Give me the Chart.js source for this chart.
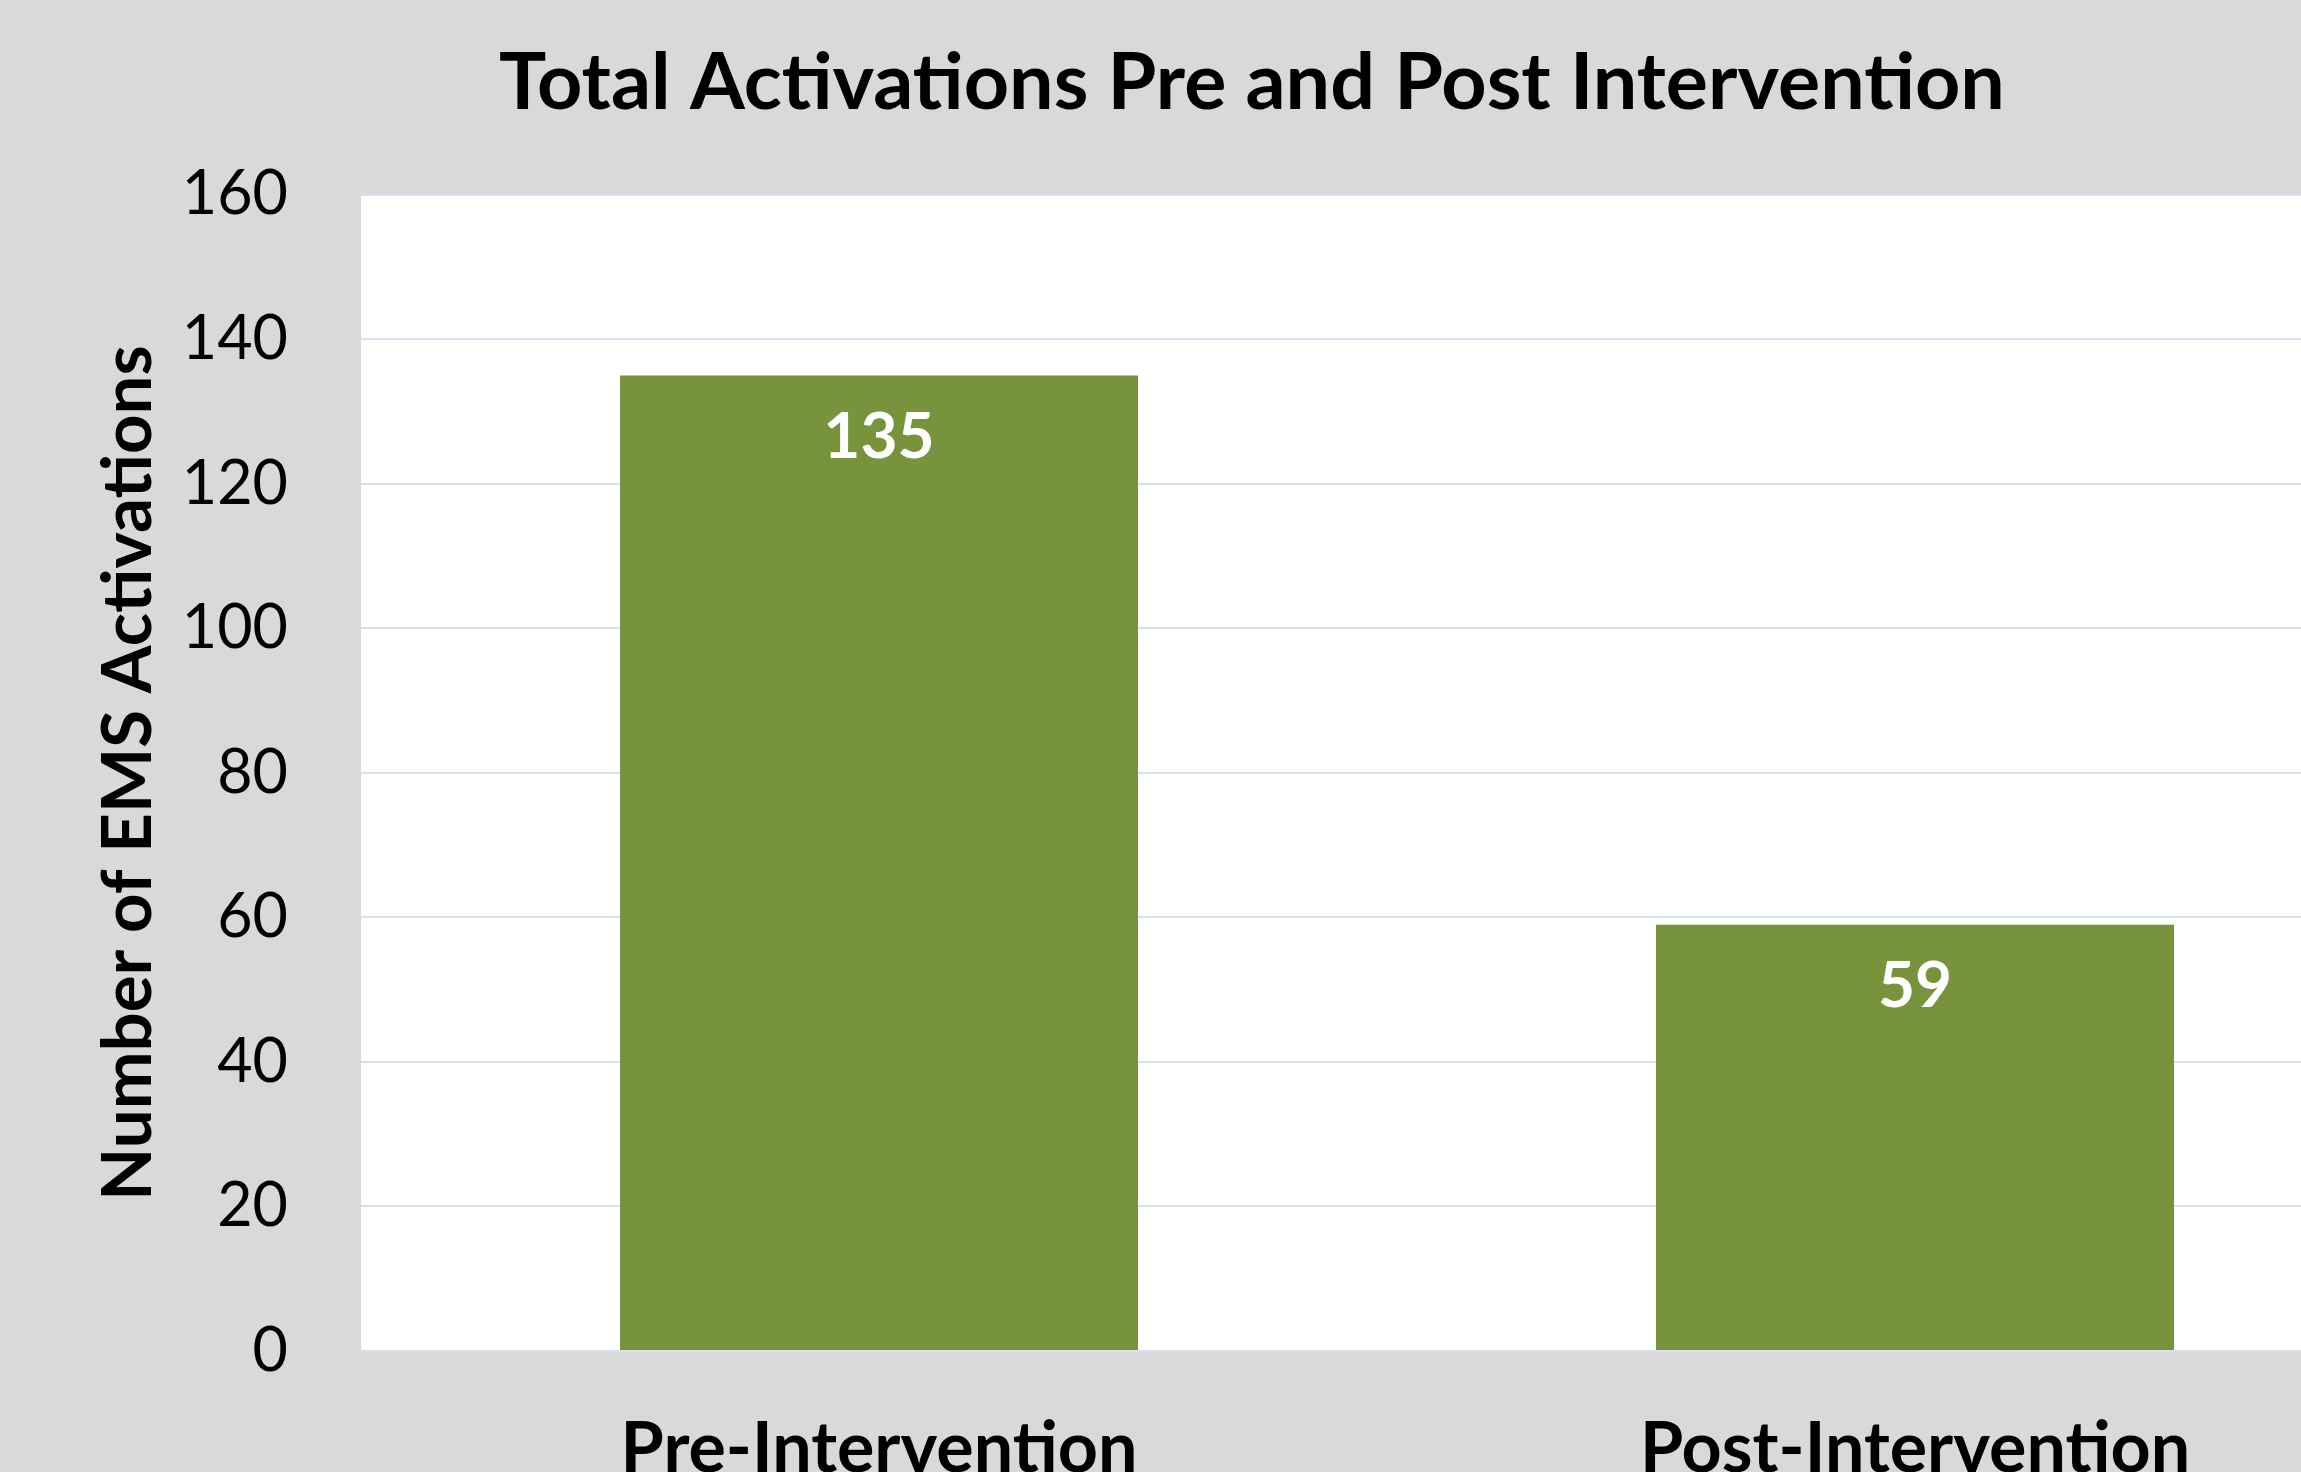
<!doctype html>
<html>
<head>
<meta charset="utf-8">
<title>Total Activations Pre and Post Intervention</title>
<script src="https://cdn.jsdelivr.net/npm/chart.js"></script>
<style>
  html, body { margin: 0; padding: 0; background: #d9d9d9; overflow: hidden; }
  #wrap { width: 2504px; height: 1472px; }
</style>
</head>
<body>
<div id="wrap"><canvas id="c" width="2504" height="1472"></canvas></div>
<script>
// データ
const categories = ['Pre-Intervention', 'Post-Intervention']
const activations = [135, 59]
const yTicks = [0, 20, 40, 60, 80, 100, 120, 140, 160]

const titleText = 'Total Activations Pre and Post Intervention'
const yTitle = 'Number of EMS Activations'

const FONT = 'Lato'
const GRID = '#d5dfef'

// プロット領域の白背景
const plotBg = {
  id: 'plotBg',
  beforeDraw(chart) {
    const { ctx, chartArea: a } = chart
    ctx.save()
    ctx.fillStyle = '#ffffff'
    ctx.fillRect(a.left, a.top, a.right - a.left, a.bottom - a.top)
    ctx.restore()
  }
}

// タイトルはキャンバス全幅の中央に置く（右パディングを無視）
const titleFullWidth = {
  id: 'titleFullWidth',
  afterLayout(chart) {
    const t = chart.titleBlock
    if (!t) return
    t.left = 0
    t.right = chart.width
    t.width = chart.width
  }
}

// バー内の値ラベル（datalabels の代わり）
const valueLabels = {
  id: 'valueLabels',
  afterDatasetsDraw(chart) {
    const { ctx } = chart
    const meta = chart.getDatasetMeta(0)
    ctx.save()
    ctx.fillStyle = '#ffffff'
    ctx.font = `bold 64px ${FONT}`
    ctx.textAlign = 'center'
    ctx.textBaseline = 'middle'
    meta.data.forEach((bar, i) => {
      ctx.fillText(String(activations[i]), bar.x, bar.y + 62)
    })
    ctx.restore()
  }
}

const ctx = document.getElementById('c').getContext('2d')
new Chart(ctx, {
  type: 'bar',
  data: {
    labels: categories,
    datasets: [{
      label: 'Activations',
      data: activations,
      backgroundColor: '#77933c',
      borderWidth: 0,
      categoryPercentage: 1.0,
      barPercentage: 0.5
    }]
  },
  options: {
    responsive: false,
    animation: false,
    layout: { padding: { left: 0, right: 71, top: 0, bottom: 0 } },
    plugins: {
      legend: { display: false },
      tooltip: { enabled: false },
      title: {
        display: true,
        text: titleText,
        color: '#000000',
        font: { family: FONT, size: 79, weight: 'bold' },
        padding: { top: 36, bottom: 64 }
      }
    },
    scales: {
      x: {
        grid: { display: false, drawTicks: false },
        border: { display: true, color: GRID, width: 2 },
        ticks: {
          color: '#000000',
          font: { family: FONT, size: 70, weight: 'bold' },
          padding: 56,
          maxRotation: 0
        },
        afterFit(scale) { scale.height = 121 }
      },
      y: {
        min: 0,
        max: 160,
        afterBuildTicks(scale) { scale.ticks = yTicks.map((v) => ({ value: v })) },
        grid: { color: GRID, lineWidth: 2, drawTicks: false },
        border: { display: false },
        ticks: {
          color: '#000000',
          font: { family: FONT, size: 61 },
          padding: 73
        },
        title: {
          display: true,
          text: yTitle,
          color: '#000000',
          font: { family: FONT, size: 69, weight: 'bold' },
          padding: { top: 87, bottom: 0 }
        },
        afterFit(scale) { scale.width = 361 }
      }
    }
  },
  plugins: [plotBg, titleFullWidth, valueLabels]
})
</script>
</body>
</html>
